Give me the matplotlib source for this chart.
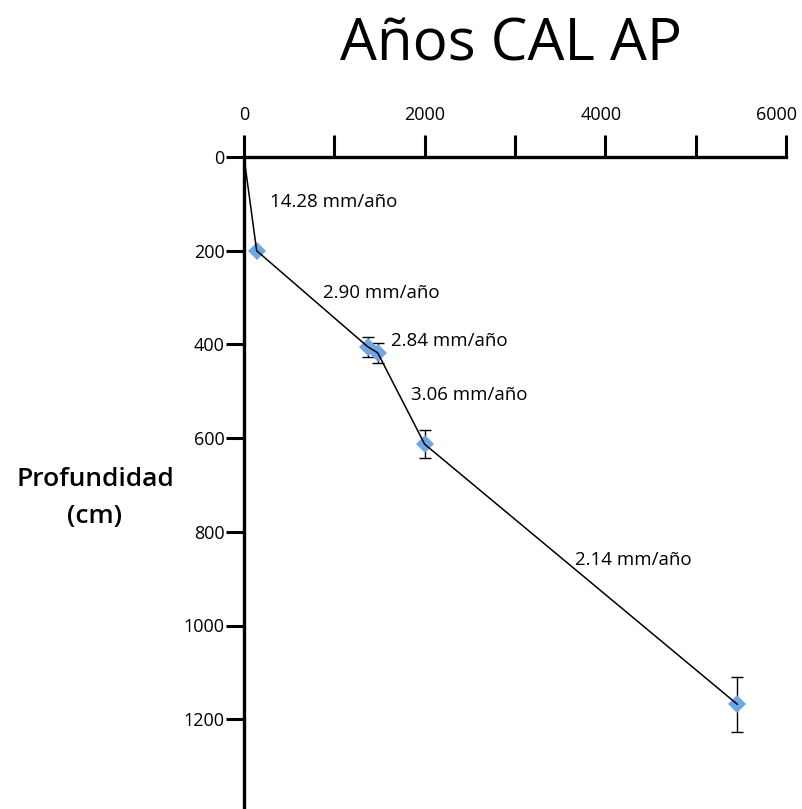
import numpy as np
import matplotlib
matplotlib.use('Agg')
import matplotlib.pyplot as plt
from matplotlib.transforms import ScaledTranslation

plt.rcParams['font.family'] = ['Open Sans', 'DejaVu Sans']

# Calibrated ages (cal yr BP) vs depth (cm)
edad = [0, 140, 1370, 1480, 2000, 5460]
profundidad = [0, 200, 405, 418, 613, 1168]
error = [0, 0, 21, 21, 30, 59]

# Sedimentation rates and where they are written
tasas = ['14.28 mm/año', '2.90 mm/año', '2.84 mm/año', '3.06 mm/año', '2.14 mm/año']
tasa_x = [290, 875, 1630, 1850, 3665]
tasa_y = [96, 290, 393, 508, 860]

W, H = 803, 809
fig = plt.figure(figsize=(W / 100, H / 100), dpi=100)
ax = fig.add_axes([244 / W, 0, 542 / W, (H - 157) / H])

# error bars, then diamonds, then the connecting line on top
ax.errorbar(edad[2:], profundidad[2:], yerr=error[2:], fmt='none',
            ecolor='black', elinewidth=1.0, capsize=4, capthick=1.0, zorder=2)
ax.plot(edad[1:], profundidad[1:], linestyle='none', marker='D',
        markersize=9.5, color='#6fa6e6', markeredgewidth=0, zorder=3)
ax.plot(edad, profundidad, color='black', linewidth=1.1, zorder=4)

for t, x, y in zip(tasas, tasa_x, tasa_y):
    ax.text(x, y, t, fontsize=13.5, ha='left', va='center')

ax.set_xlim(0, 6000)
ax.set_ylim((H - 157) / 0.4685, 0)

# axis on top, depth going down
ax.xaxis.set_ticks_position('top')
ax.set_xticks(np.arange(0, 7000, 1000))
ax.set_xticklabels(['0', '', '2000', '', '4000', '', '6000'])
ax.set_yticks(np.arange(0, 1400, 200))
ax.tick_params(axis='x', direction='out', length=16, width=2.2, pad=8, labelsize=13)
ax.tick_params(axis='y', direction='out', length=13, width=2.2, pad=1, labelsize=13)

# pull the last labels a bit left so they stay on the canvas
lbls = ax.get_xticklabels()
lbls[4].set_transform(lbls[4].get_transform() + ScaledTranslation(-4 / 100, 0, fig.dpi_scale_trans))
lbls[6].set_transform(lbls[6].get_transform() + ScaledTranslation(-9 / 100, 0, fig.dpi_scale_trans))

for s in ['right', 'bottom']:
    ax.spines[s].set_visible(False)
for s in ['top', 'left']:
    ax.spines[s].set_linewidth(2.4)
ax.patch.set_alpha(0)

fig.text(511 / W, 1 - 45 / H, 'Años CAL AP', fontsize=42, ha='center', va='center')
fig.text(95 / W, 1 - 498 / H, 'Profundidad\n(cm)', fontsize=19, fontweight='semibold',
         ha='center', va='center', linespacing=1.65)

plt.savefig('out.png', dpi=100)
plt.clf()
